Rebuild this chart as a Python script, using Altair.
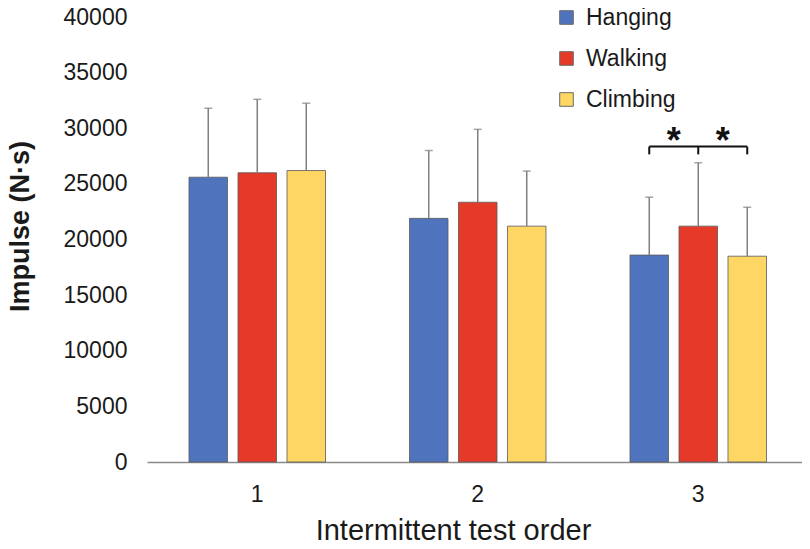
import altair as alt
import pandas as pd

orders = ["1", "2", "3"]
types = ["Hanging", "Walking", "Climbing"]
colors = ["#4F73BD", "#E43A27", "#FED663"]

hanging_mean = [25600, 21900, 18600]
walking_mean = [26000, 23350, 21200]
climbing_mean = [26200, 21200, 18500]

hanging_upper = [31800, 28000, 23800]
walking_upper = [32600, 29900, 26900]
climbing_upper = [32250, 26150, 22900]

bracket_top = 28350
bracket_bottom = 27650
star_level = 27800

rows = []
for t, means, ups in [("Hanging", hanging_mean, hanging_upper),
                      ("Walking", walking_mean, walking_upper),
                      ("Climbing", climbing_mean, climbing_upper)]:
    for o, m, u in zip(orders, means, ups):
        rows.append({"order": o, "type": t, "mean": m, "upper": u})
df = pd.DataFrame(rows)

bracket = pd.DataFrame({"order": ["3"] * 3, "type": types,
                        "top": [bracket_top] * 3, "bottom": [bracket_bottom] * 3})
stars = pd.DataFrame({"order": ["3", "3"], "type": ["Hanging", "Walking"],
                      "y": [star_level, star_level], "label": ["*", "*"]})

FONT = "Liberation Sans"

x_scale = alt.Scale(domain=orders, paddingInner=0, paddingOuter=0, range=[0, 661.5])
x_enc = alt.X("order:N", sort=orders, scale=x_scale,
              axis=alt.Axis(title="Intermittent test order", labelAngle=0,
                            ticks=False, domainColor="#8a8a8a", domainWidth=1.5,
                            labelFontSize=23, labelPadding=21, labelColor="#1a1a1a",
                            labelFont=FONT, titleFont=FONT, titleFontSize=29,
                            titleFontWeight="normal", titleColor="#1a1a1a",
                            titleX=306, titleY=77, titleBaseline="alphabetic",
                            titleAlign="center"))
xo_enc = alt.XOffset("type:N", sort=types,
                     scale=alt.Scale(domain=types, paddingInner=0.214, paddingOuter=0.857))
y_scale = alt.Scale(domain=[0, 40000], nice=False)

x_plain = alt.X("order:N", sort=orders)

bars = alt.Chart(df).mark_bar(stroke="#5a5a5a", strokeWidth=1, strokeOpacity=0.8).encode(
    x=x_enc,
    xOffset=xo_enc,
    y=alt.Y("mean:Q", scale=y_scale,
            axis=alt.Axis(title="Impulse (N·s)", values=list(range(0, 40001, 5000)),
                          format="d",
                          grid=False, domain=False, ticks=False,
                          labelFontSize=23, labelPadding=20, labelColor="#1a1a1a",
                          labelFont=FONT, titleFont=FONT, titleFontSize=27,
                          titleFontWeight="bold", titleColor="#1a1a1a",
                          titleX=-119, titleY=209, titleBaseline="alphabetic",
                          titleAlign="center", titleAngle=270)),
    color=alt.Color("type:N", sort=types,
                    scale=alt.Scale(domain=types, range=colors),
                    legend=alt.Legend(title=None, orient="none", legendX=408, legendY=-11,
                                      symbolType="square", symbolSize=185,
                                      symbolStrokeColor="#6a6a6a", symbolStrokeWidth=1,
                                      labelFontSize=23, labelFont=FONT, labelColor="#1a1a1a",
                                      labelOffset=8, rowPadding=17, padding=0)),
)

err = alt.Chart(df).mark_rule(color="#808080", strokeWidth=1.5).encode(
    x=x_plain, xOffset=xo_enc,
    y=alt.Y("mean:Q"), y2="upper:Q")

caps = alt.Chart(df).mark_tick(color="#808080", thickness=1.5, size=8).encode(
    x=x_plain, xOffset=xo_enc,
    y=alt.Y("upper:Q"))

br_line = alt.Chart(bracket).mark_line(color="#111111", strokeWidth=2).encode(
    x=x_plain, xOffset=xo_enc,
    y=alt.Y("top:Q"))

br_drop = alt.Chart(bracket).mark_rule(color="#111111", strokeWidth=2).encode(
    x=x_plain, xOffset=xo_enc,
    y=alt.Y("top:Q"), y2="bottom:Q")

star_text = alt.Chart(stars).mark_text(font=FONT, fontSize=36, fontWeight="bold",
                                       color="#111111", dx=24.5, baseline="alphabetic",
                                       align="center").encode(
    x=x_plain, xOffset=xo_enc,
    y=alt.Y("y:Q"), text="label:N")

chart = alt.layer(bars, err, caps, br_line, br_drop, star_text).properties(
    width=655, height=445,
    background="white",
    autosize=alt.AutoSizeParams(type="none"),
    padding={"left": 139, "top": 9, "right": 0, "bottom": 79},
).configure_view(stroke=None)

chart.save("out.html", embed_options={"renderer": "svg", "actions": False})
